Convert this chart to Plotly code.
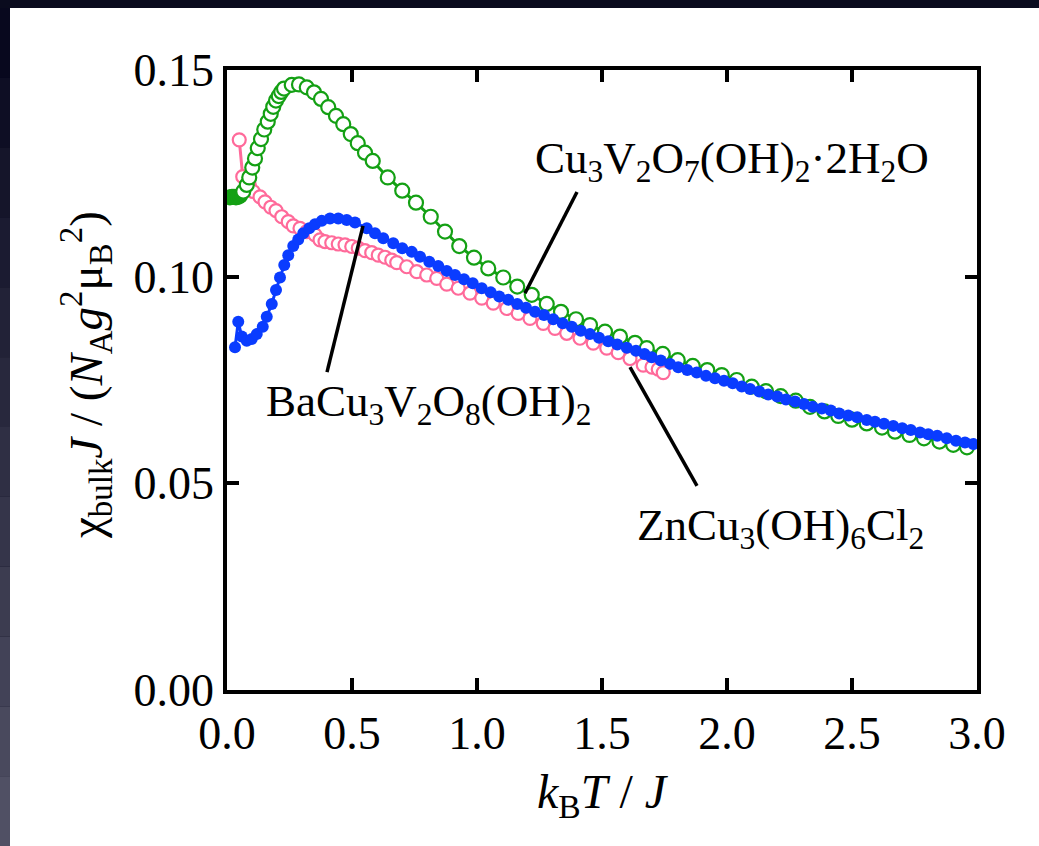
import plotly.graph_objects as go

# ---------------- data ----------------
# Cu3V2O7(OH)2·2H2O (green, open circles)
green_x = [0.012, 0.020, 0.028, 0.036, 0.044, 0.052,
           0.065, 0.079, 0.089, 0.101, 0.112, 0.123, 0.136, 0.149, 0.163, 0.175,
           0.185, 0.196, 0.207, 0.217, 0.228, 0.259, 0.288, 0.319, 0.348, 0.376,
           0.405, 0.436, 0.465, 0.495, 0.523, 0.552, 0.583, 0.643, 0.701, 0.756,
           0.815, 0.872, 0.929, 0.988, 1.045, 1.105, 1.161, 1.219, 1.279, 1.336,
           1.396, 1.452, 1.512, 1.572, 1.632, 1.679, 1.743, 1.803, 1.863, 1.921,
           1.979, 2.039, 2.099, 2.156, 2.215, 2.275, 2.332, 2.390, 2.445, 2.500,
           2.559, 2.620, 2.672, 2.730, 2.788, 2.850, 2.905, 2.960]
green_y = [0.1192, 0.1193, 0.1193, 0.1192, 0.1193, 0.1196,
           0.1206, 0.1222, 0.1240, 0.1264, 0.1286, 0.1311, 0.1333, 0.1356, 0.1375, 0.1394,
           0.1411, 0.1426, 0.1437, 0.1447, 0.1455, 0.1464, 0.1465, 0.1458, 0.1446, 0.1430,
           0.1410, 0.1389, 0.1369, 0.1345, 0.1323, 0.1300, 0.1280, 0.1240, 0.1208, 0.1179,
           0.1145, 0.1109, 0.1074, 0.1046, 0.1020, 0.0998, 0.0976, 0.0956, 0.0934, 0.0915,
           0.0897, 0.0883, 0.0867, 0.0855, 0.0840, 0.0827, 0.0813, 0.0798, 0.0784, 0.0774,
           0.0762, 0.0750, 0.0734, 0.0723, 0.0711, 0.0700, 0.0685, 0.0674, 0.0663, 0.0654,
           0.0645, 0.0635, 0.0625, 0.0617, 0.0609, 0.0601, 0.0593, 0.0587]

# ZnCu3(OH)6Cl2 (pink, open circles)
pink_x = [0.049, 0.063, 0.089, 0.105, 0.132, 0.152, 0.175, 0.196, 0.219, 0.245,
          0.265, 0.292, 0.319, 0.352, 0.372, 0.392, 0.419, 0.445, 0.472, 0.499,
          0.525, 0.552, 0.579, 0.605, 0.632, 0.659, 0.679, 0.719, 0.759, 0.799,
          0.839, 0.879, 0.925, 0.972, 1.019, 1.065, 1.119, 1.165, 1.212, 1.265,
          1.312, 1.359, 1.412, 1.465, 1.519, 1.565, 1.612, 1.665, 1.700, 1.725, 1.745]
pink_y = [0.1331, 0.1242, 0.1222, 0.1206, 0.1193, 0.1181, 0.1168, 0.1160, 0.1145, 0.1133,
          0.1123, 0.1117, 0.1109, 0.1101, 0.1089, 0.1085, 0.1082, 0.1079, 0.1077, 0.1073,
          0.1069, 0.1063, 0.1058, 0.1052, 0.1047, 0.1040, 0.1034, 0.1024, 0.1012, 0.1004,
          0.0996, 0.0982, 0.0972, 0.0960, 0.0948, 0.0936, 0.0923, 0.0911, 0.0899, 0.0887,
          0.0875, 0.0863, 0.0851, 0.0839, 0.0827, 0.0816, 0.0802, 0.0786, 0.0781, 0.0776, 0.0768]

# BaCu3V2O8(OH)2 (blue, filled circles)
blue_x = [0.032, 0.045, 0.059, 0.079, 0.099, 0.119, 0.143, 0.159, 0.179, 0.196,
          0.212, 0.229, 0.245, 0.265, 0.285, 0.305, 0.329, 0.352, 0.379, 0.412,
          0.445, 0.479, 0.512, 0.559, 0.592, 0.625, 0.665, 0.701, 0.739, 0.772,
          0.809, 0.845, 0.879, 0.912, 0.948, 0.983, 1.019, 1.055, 1.089, 1.125,
          1.161, 1.196, 1.232, 1.268, 1.305, 1.343, 1.379, 1.415, 1.452, 1.488,
          1.525, 1.561, 1.599, 1.636, 1.670, 1.699, 1.735, 1.772, 1.805, 1.841,
          1.879, 1.916, 1.952, 1.988, 2.023, 2.059, 2.092, 2.129, 2.165, 2.201,
          2.236, 2.272, 2.308, 2.343, 2.379, 2.415, 2.449, 2.485, 2.521, 2.559,
          2.592, 2.628, 2.665, 2.701, 2.735, 2.772, 2.805, 2.841, 2.879, 2.916,
          2.952, 2.985]
blue_y = [0.0829, 0.0891, 0.0855, 0.0845, 0.0849, 0.0861, 0.0879, 0.0903, 0.0934, 0.0968,
          0.0998, 0.1028, 0.1052, 0.1074, 0.1090, 0.1105, 0.1117, 0.1127, 0.1135, 0.1141,
          0.1141, 0.1137, 0.1131, 0.1117, 0.1105, 0.1093, 0.1081, 0.1069, 0.1060, 0.1048,
          0.1036, 0.1026, 0.1014, 0.1004, 0.0994, 0.0984, 0.0972, 0.0962, 0.0952, 0.0944,
          0.0934, 0.0925, 0.0915, 0.0907, 0.0897, 0.0887, 0.0879, 0.0869, 0.0861, 0.0852,
          0.0844, 0.0836, 0.0828, 0.0821, 0.0813, 0.0805, 0.0797, 0.0789, 0.0781, 0.0774,
          0.0768, 0.0760, 0.0754, 0.0748, 0.0742, 0.0734, 0.0728, 0.0722, 0.0715, 0.0710,
          0.0703, 0.0698, 0.0692, 0.0685, 0.0681, 0.0676, 0.0669, 0.0664, 0.0660, 0.0653,
          0.0649, 0.0644, 0.0639, 0.0633, 0.0629, 0.0623, 0.0619, 0.0615, 0.0609, 0.0603,
          0.0599, 0.0595]

x_ticks = [0.0, 0.5, 1.0, 1.5, 2.0, 2.5, 3.0]
y_ticks = [0.00, 0.05, 0.10, 0.15]

# labels: (text, x, y) and leader lines (x0, y0, x1, y1)
labels = [
    ("Cu<sub>3</sub>V<sub>2</sub>O<sub>7</sub>(OH)<sub>2</sub>·2H<sub>2</sub>O", 1.224, 0.1280),
    ("BaCu<sub>3</sub>V<sub>2</sub>O<sub>8</sub>(OH)<sub>2</sub>", 0.148, 0.0692),
    ("ZnCu<sub>3</sub>(OH)<sub>6</sub>Cl<sub>2</sub>", 1.632, 0.0392),
]
leaders = [
    (1.40, 0.1205, 1.192, 0.0960),
    (0.40, 0.0769, 0.544, 0.1123),
    (1.612, 0.0781, 1.880, 0.0494),
]

GREEN = "#14a014"
PINK = "#ff6a9a"
BLUE = "#0a3cff"
FONT = "Liberation Serif, Times New Roman, Times, serif"

fig = go.Figure()

fig.add_trace(go.Scatter(
    x=pink_x, y=pink_y, mode="lines+markers",
    line=dict(color=PINK, width=3),
    marker=dict(symbol="circle", size=13, color="white",
                line=dict(color=PINK, width=2.2)),
    showlegend=False))

green_fill = [GREEN if xv < 0.055 else "white" for xv in green_x]
fig.add_trace(go.Scatter(
    x=green_x, y=green_y, mode="lines+markers",
    line=dict(color=GREEN, width=3),
    marker=dict(symbol="circle", size=14, color=green_fill,
                line=dict(color=GREEN, width=2.2)),
    showlegend=False))

fig.add_trace(go.Scatter(
    x=blue_x, y=blue_y, mode="lines+markers",
    line=dict(color=BLUE, width=3),
    marker=dict(symbol="circle", size=12, color=BLUE),
    showlegend=False))

# background: dark frame with white panel
W, H = 1039, 846
L, R, T, B = 227, 62, 70, 156
pw, ph = W - L - R, H - T - B

def px(xp):
    return (xp - L) / pw

def py(yp):
    return (H - B - yp) / ph

shapes = [dict(type="rect", xref="paper", yref="paper", layer="below",
               x0=px(10), x1=px(W), y0=py(H), y1=py(8),
               fillcolor="white", line=dict(width=0))]
# left gradient strip
n = 12
for i in range(n):
    t = i / (n - 1)
    r = int(8 + t * (80 - 8))
    g = int(8 + t * (80 - 8))
    b = int(30 + t * (100 - 30))
    shapes.append(dict(type="rect", xref="paper", yref="paper", layer="below",
                       x0=px(0), x1=px(10),
                       y0=py(8 + (i + 1) * (H - 8) / n), y1=py(8 + i * (H - 8) / n),
                       fillcolor=f"rgb({r},{g},{b})", line=dict(width=0)))

for (x0, y0, x1, y1) in leaders:
    shapes.append(dict(type="line", xref="x", yref="y", x0=x0, y0=y0, x1=x1, y1=y1,
                       line=dict(color="black", width=3.5)))

annotations = []
for (txt, xv, yv) in labels:
    annotations.append(dict(text=txt, x=xv, y=yv, xref="x", yref="y",
                            xanchor="left", yanchor="middle", showarrow=False,
                            font=dict(family=FONT, size=45, color="black")))

annotations.append(dict(
    text="<i>k</i><sub>B</sub><i>T</i> / <i>J</i>",
    x=px(603), y=py(795), xref="paper", yref="paper",
    xanchor="center", yanchor="middle", showarrow=False,
    font=dict(family=FONT, size=48, color="black")))
annotations.append(dict(
    text="χ<sub>bulk</sub><i>J</i> / (<i>N</i><sub>A</sub><i>g</i><sup>2</sup>μ<sub>B</sub><sup>2</sup>)",
    x=px(86), y=py(375), xref="paper", yref="paper", textangle=-90,
    xanchor="center", yanchor="middle", showarrow=False,
    font=dict(family=FONT, size=47, color="black")))

axis_common = dict(showline=True, linecolor="black", linewidth=3.5, mirror="ticks",
                   ticks="inside", ticklen=12, tickwidth=3.5, tickcolor="black",
                   showgrid=False, zeroline=False,
                   tickfont=dict(family=FONT, size=46, color="black"))

fig.update_layout(
    width=W, height=H,
    margin=dict(l=L, r=R, t=T, b=B, pad=0),
    paper_bgcolor="#0a0b1e", plot_bgcolor="white",
    shapes=shapes, annotations=annotations,
    xaxis=dict(range=[0, 3.0], tickvals=x_ticks,
               ticktext=[f"{v:.1f}" for v in x_ticks], **axis_common),
    yaxis=dict(range=[0, 0.15], tickvals=y_ticks,
               ticktext=[f"{v:.2f}" for v in y_ticks], **axis_common),
)

fig.write_html("out.html")
